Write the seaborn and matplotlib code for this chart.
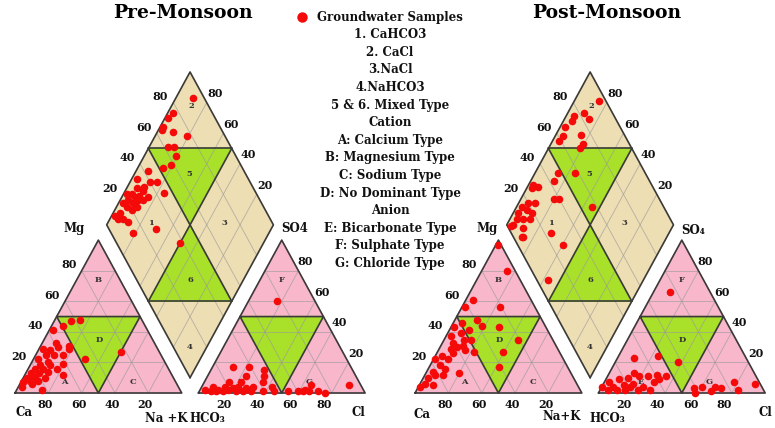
import numpy as np
import pandas as pd
import seaborn as sns
import matplotlib.pyplot as plt

# Piper diagram geometry (triangle side = 1)
H = np.sqrt(3) / 2
GAP = 0.1
SHIFT = 2.4  # x offset of the post-monsoon panel

# ---------------- data (percent) ----------------
# cation triangle: Na+K %, Mg %
pre_cat_na = [15, 10, 7, 2, 17, 18, 31, 50, 11, 2, 6, 11, 16, 3, 10, 19, 4, 9, 17, 3, 8, 13, 23, 2, 7, 13, 2, 7, 15, 7, 8, 5, 6, 4, 10, 12, 1]
pre_cat_mg = [48, 47, 44, 41, 31, 29, 22, 27, 30, 29, 25, 25, 25, 22, 20, 19, 16, 16, 16, 13, 13, 14, 12, 10, 10, 10, 4, 6, 2, 28, 33, 8, 18, 12, 8, 18, 7]
# anion triangle: Cl %, SO4 %
pre_an_cl = [17, 12, 22, 32, 34, 35, 23, 31, 42, 7, 11, 14, 19, 22, 26, 3, 7, 14, 22, 31, 38, 53, 59, 63, 65, 62, 71, 76, 88, 15, 22, 66, 10, 17, 27, 45]
pre_an_so4 = [60, 17, 17, 15, 11, 7, 11, 4, 4, 4, 2, 4, 3, 4, 1, 2, 1, 1, 1, 1, 1, 1, 1, 2, 5, 1, 1, 0, 5, 7, 7, 1, 1, 2, 3, 1]
# diamond: Ca+Mg %, SO4+Cl %
pre_dia_camg = [90, 97, 98, 98, 98, 91, 81, 89, 85, 81, 81, 85, 93, 97, 88, 84, 76, 94, 89, 98, 95, 92, 90, 84, 95, 91, 89, 94, 90, 96, 98, 92, 88, 95, 82, 69, 50, 97, 88, 86, 90]
pre_dia_so4cl = [93, 76, 72, 66, 64, 70, 77, 62, 66, 64, 58, 52, 42, 33, 40, 44, 45, 30, 33, 22, 25, 26, 29, 34, 21, 23, 27, 18, 20, 12, 8, 12, 14, 9, 13, 28, 38, 17, 24, 30, 35]

post_cat_na = [1, 15, 4, 2, 23, 13, 18, 29, 44, 39, 42, 12, 16, 22, 20, 2, 8, 12, 6, 10, 16, 4, 9, 6, 10, 4, 11, 3, 3, 1, 8, 10, 3, 5, 1, 7, 13, 6]
post_cat_mg = [97, 80, 61, 56, 56, 48, 44, 43, 35, 27, 17, 41, 35, 27, 13, 43, 39, 35, 33, 26, 28, 24, 22, 18, 16, 14, 12, 10, 6, 4, 5, 30, 37, 46, 22, 29, 31, 12]
post_an_cl = [10, 10, 24, 38, 78, 91, 56, 60, 68, 72, 67, 83, 58, 0, 3, 7, 8, 13, 13, 15, 18, 19, 25, 24, 29, 32, 35, 30, 5, 15, 23, 30, 10, 17]
post_an_so4 = [66, 23, 24, 20, 7, 6, 3, 4, 4, 3, 1, 2, 0, 4, 7, 4, 9, 5, 10, 13, 6, 11, 4, 11, 12, 9, 11, 2, 2, 2, 2, 7, 2, 4]
post_dia_camg = [85, 90, 85, 95, 95, 97, 95, 96, 85, 81, 81, 76, 86, 86, 97, 97, 94, 80, 77, 55, 94, 90, 97, 97, 93, 89, 96, 92, 88, 96, 89, 71, 86, 60, 57, 97, 87]
post_dia_so4cl = [96, 83, 84, 76, 73, 67, 63, 59, 74, 72, 69, 58, 48, 43, 29, 27, 31, 37, 40, 57, 20, 24, 15, 11, 17, 19, 8, 12, 16, 4, 9, 24, 6, 27, 7, 2, 5]

tick_vals = [20, 40, 60, 80]
legend_lines = ["Groundwater Samples", "1. CaHCO3", "2. CaCl", "3.NaCl", "4.NaHCO3",
                "5 & 6. Mixed Type", "Cation", "A: Calcium Type", "B: Magnesium Type",
                "C: Sodium Type", "D: No Dominant Type", "Anion", "E: Bicarbonate Type",
                "F: Sulphate Type", "G: Chloride Type"]

PINK = '#F8B7CB'
TAN = '#EEDEB3'
GREEN = '#A8E02A'
EDGE = '#3a3a3a'
GRID = '#9a9a9a'
RED = '#F50A0A'
SERIF = 'DejaVu Serif'


# ---------------- coordinate helpers ----------------
def cat_xy(na, mg, x0):
    na, mg = np.asarray(na) / 100, np.asarray(mg) / 100
    return x0 + na + mg / 2, mg * H


def an_xy(cl, so4, x0):
    cl, so4 = np.asarray(cl) / 100, np.asarray(so4) / 100
    return x0 + 1 + GAP + cl + so4 / 2, so4 * H


def dia_xy(camg, so4cl, x0):
    t, s = np.asarray(camg) / 100, np.asarray(so4cl) / 100
    bx, by = x0 + 1 + GAP / 2, GAP / 2 * np.sqrt(3)
    return bx + 0.5 * (s - t), by + H * (s + t)


PX_X, PX_Y = 166.7, 176.5  # pixels per data unit


def px(x, y):
    # figure pixel position -> data coords (used for text only)
    return -0.09 + x / PX_X, (393 - y) / PX_Y


def tlabel(ax, x, y, s, dx, dy, size=8):
    ax.text(x + dx / PX_X, y - dy / PX_Y, s, ha='center', va='center',
            fontsize=size, fontweight='bold', family=SERIF, color='#111111')


def line(ax, p, q, **kw):
    ax.plot([p[0], q[0]], [p[1], q[1]], **kw)


def draw_triangle(ax, xl, letters, show_d):
    L, R, T = (xl, 0), (xl + 1, 0), (xl + 0.5, H)
    ax.fill([L[0], R[0], T[0]], [L[1], R[1], T[1]], color=PINK, zorder=1)
    m1, m2, m3 = (xl + 0.25, H / 2), (xl + 0.75, H / 2), (xl + 0.5, 0)
    ax.fill([m1[0], m2[0], m3[0]], [m1[1], m2[1], m3[1]], color=GREEN, zorder=1.5)
    for f in [0.2, 0.4, 0.6, 0.8]:
        g = dict(color=GRID, lw=0.6, alpha=0.7, zorder=2)
        line(ax, (xl + f / 2, f * H), (xl + 1 - f / 2, f * H), **g)
        line(ax, (xl + f, 0), (xl + f + (1 - f) / 2, (1 - f) * H), **g)
        line(ax, (xl + 1 - f, 0), (xl + (1 - f) / 2, (1 - f) * H), **g)
    e = dict(color=EDGE, lw=1.2, zorder=3)
    ax.plot([L[0], R[0], T[0], L[0]], [L[1], R[1], T[1], L[1]], **e)
    ax.plot([m1[0], m2[0], m3[0], m1[0]], [m1[1], m2[1], m3[1], m1[1]], **e)
    for s, (a, b) in letters.items():
        if s == 'D' and not show_d:
            continue
        x = xl + a / 100 + b / 200
        ax.text(x, b / 100 * H, s, ha='center', va='center', fontsize=6,
                fontweight='bold', family=SERIF, color='#333333', zorder=4)


def draw_diamond(ax, x0):
    B = dia_xy(0, 0, x0)
    R = dia_xy(0, 100, x0)
    T = dia_xy(100, 100, x0)
    L = dia_xy(100, 0, x0)
    C = dia_xy(50, 50, x0)
    mul, mur = dia_xy(100, 50, x0), dia_xy(50, 100, x0)
    mll, mlr = dia_xy(50, 0, x0), dia_xy(0, 50, x0)
    ax.fill([B[0], R[0], T[0], L[0]], [B[1], R[1], T[1], L[1]], color=TAN, zorder=1)
    for tri in [(mul, mur, C), (C, mll, mlr)]:
        ax.fill([p[0] for p in tri], [p[1] for p in tri], color=GREEN, zorder=1.5)
    for f in [20, 40, 60, 80]:
        g = dict(color=GRID, lw=0.6, alpha=0.7, zorder=2)
        line(ax, dia_xy(f, 0, x0), dia_xy(f, 100, x0), **g)
        line(ax, dia_xy(0, f, x0), dia_xy(100, f, x0), **g)
    e = dict(color=EDGE, lw=1.2, zorder=3)
    ax.plot([B[0], R[0], T[0], L[0], B[0]], [B[1], R[1], T[1], L[1], B[1]], **e)
    line(ax, mul, mur, **e)
    line(ax, mll, mlr, **e)
    line(ax, mul, mlr, **e)
    line(ax, mur, mll, **e)
    nums = {'2': (88, 90), '5': (67, 66), '1': (74, 27), '3': (30, 71), '6': (32, 32), '4': (10, 10)}
    for s, (t, v) in nums.items():
        x, y = dia_xy(t, v, x0)
        ax.text(x, y, s, ha='center', va='center', fontsize=6, fontweight='bold',
                family=SERIF, color='#333333', zorder=4)


def draw_ticks(ax, x0):
    for v in tick_vals:
        x, y = cat_xy(0, v, x0)
        tlabel(ax, x, y, str(v), -13, -6)
        x, y = cat_xy(100 - v, 0, x0)
        tlabel(ax, x, y, str(v), -3, 11)
        x, y = an_xy(v, 0, x0)
        tlabel(ax, x, y, str(v), -8, 11)
        x, y = an_xy(100 - v, v, x0)
        tlabel(ax, x, y, str(v), 7, -9)
        x, y = dia_xy(100, v, x0)
        tlabel(ax, x, y, str(v), -13, -6)
        x, y = dia_xy(v, 100, x0)
        tlabel(ax, x, y, str(v), 8, -9)


def scatter(ax, xy):
    df = pd.DataFrame({'x': xy[0], 'y': xy[1]})
    sns.scatterplot(data=df, x='x', y='y', ax=ax, color=RED, s=30, linewidth=0,
                    zorder=5, legend=False)


sns.set_style('white')
fig = plt.figure(figsize=(7.75, 4.28), dpi=100)
ax = fig.add_axes([0, 0, 1, 1])

cat_letters = {'B': (13, 74), 'D': (33, 35), 'A': (26, 7), 'C': (67, 7)}
an_letters = {'F': (13, 74), 'D': (33, 35), 'E': (22, 7), 'G': (63, 7)}

panels = [
    (0.0, pre_cat_na, pre_cat_mg, pre_an_cl, pre_an_so4, pre_dia_camg, pre_dia_so4cl, False),
    (SHIFT, post_cat_na, post_cat_mg, post_an_cl, post_an_so4, post_dia_camg, post_dia_so4cl, True),
]
for x0, cna, cmg, acl, aso4, dcm, dsc, anion_d in panels:
    draw_triangle(ax, x0, cat_letters, True)
    draw_triangle(ax, x0 + 1 + GAP, an_letters, anion_d)
    draw_diamond(ax, x0)
    draw_ticks(ax, x0)
    scatter(ax, cat_xy(cna, cmg, x0))
    scatter(ax, an_xy(acl, aso4, x0))
    scatter(ax, dia_xy(dcm, dsc, x0))

# corner names
names = [('Mg', 74, 228), ('SO4', 295, 228), ('Ca', 24, 413), ('Na +K', 166, 418),
         ('HCO\u2083', 207, 418), ('Cl', 358, 413),
         ('Mg', 487, 228), ('SO\u2084', 693, 230), ('Ca', 422, 414), ('Na+K', 562, 417),
         ('HCO\u2083', 607, 418), ('Cl', 765, 413)]
for s, x, y in names:
    xx, yy = px(x, y)
    ax.text(xx, yy, s, ha='center', va='center', fontsize=8.5, fontweight='bold',
            family=SERIF, color='#111111')

# titles
for s, x in [('Pre-Monsoon', 183), ('Post-Monsoon', 607)]:
    xx, yy = px(x, 13)
    ax.text(xx, yy, s, ha='center', va='center', fontsize=13.5, fontweight='heavy',
            family=SERIF, color='black')

# central legend text
for i, s in enumerate(legend_lines):
    xx, yy = px(390, 17 + i * 17.6)
    ax.text(xx, yy, s, ha='center', va='center', fontsize=8.5, fontweight='bold',
            family=SERIF, color='#111111')
lx, ly = px(302, 17)
ax.plot([lx], [ly], 'o', color=RED, ms=7.5, mec='none')

ax.set_xlim(-0.09, -0.09 + 775 / PX_X)
ax.set_ylim((393 - 428) / PX_Y, 393 / PX_Y)
ax.axis('off')

fig.savefig('out.png', dpi=100)
